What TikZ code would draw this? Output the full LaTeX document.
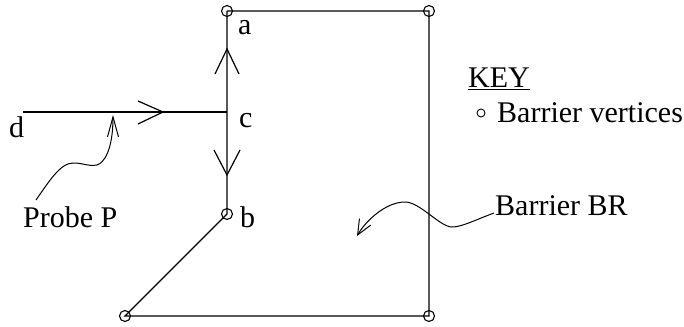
\documentclass[tikz,border=0pt]{standalone}
\usepackage{fontspec}
\setmainfont{Liberation Serif}
\usetikzlibrary{arrows.meta,calc}
\begin{document}
\begin{tikzpicture}[x=1pt,y=-1pt,
  edge/.style={line width=1.2pt},
  vtx/.style={circle,draw,line width=1.1pt,minimum size=11pt,inner sep=0pt},
  keyvtx/.style={circle,draw,line width=0.9pt,minimum size=8pt,inner sep=0pt},
  lbl/.style={anchor=base west,inner sep=0pt,font=\fontsize{30}{36}\selectfont},
  chev/.style={line width=1.2pt},
  wavy/.style={line width=1pt},
]
\useasboundingbox (0,0) rectangle (684,326);
% barrier vertices
\node[vtx] (va) at (227,11) {};
\node[vtx] (vtr) at (429,11) {};
\node[vtx] (vbr) at (429,316) {};
\node[vtx] (vbl) at (125,316) {};
\node[vtx] (vb) at (227,214) {};
\coordinate (c) at (227,112);
\coordinate (d) at (23,112);
\coordinate (upTip) at (227,49);
\coordinate (dnTip) at (227,175);
\coordinate (rtTip) at (163,112);
% barrier outline
\draw[edge] (va.center) -- (vtr.center) -- (vbr.center) -- (vbl.center) -- (vb.center) -- (c) -- (va.center);
% probe
\draw[edge] (d) -- (c);
% chevrons
\draw[chev] ($(upTip)+(-12,25)$) -- (upTip) -- ($(upTip)+(12,25)$);
\draw[chev] ($(dnTip)+(-13,-25)$) -- (dnTip) -- ($(dnTip)+(13,-25)$);
\draw[chev] ($(rtTip)+(-25,-11)$) -- (rtTip) -- ($(rtTip)+(-25,12)$);
% labels
\node[lbl] (la) at (238,35) {a};
\node[lbl] (lc) at (239,127) {c};
\node[lbl] (ld) at (9,137) {d};
\node[lbl] (lb) at (240,227) {b};
\node[lbl] (probe) at (23,227) {Probe P};
\node[lbl] (barrier) at (495,215) {Barrier BR};
\node[lbl] (key) at (468,88) {KEY};
\draw[line width=1pt] ([yshift=-2pt]key.base west) -- ([yshift=-2pt]key.base east);
\node[keyvtx] (keyv) at (481,113) {};
\node[lbl] (keytext) at (497,122) {Barrier vertices};
% pointers
\coordinate (pstart) at (36,200);
\coordinate (ptip) at (113,115);
\draw[wavy,-{Straight Barb[length=20pt,width=11pt]}] (pstart) .. controls (48,183) and (60,163) .. (73,163)
  .. controls (84,163) and (90,167) .. (97,165)
  .. controls (104,163) and (113,150) .. (ptip);
\coordinate (bstart) at (494,213);
\coordinate (btip) at (357,236);
\draw[wavy,-{Straight Barb[length=15pt,width=13pt]}] (bstart) .. controls (475,220) and (462,227) .. (452,227)
  .. controls (440,227) and (420,202) .. (405,202)
  .. controls (385,202) and (365,222) .. (btip);
\end{tikzpicture}
\end{document}
